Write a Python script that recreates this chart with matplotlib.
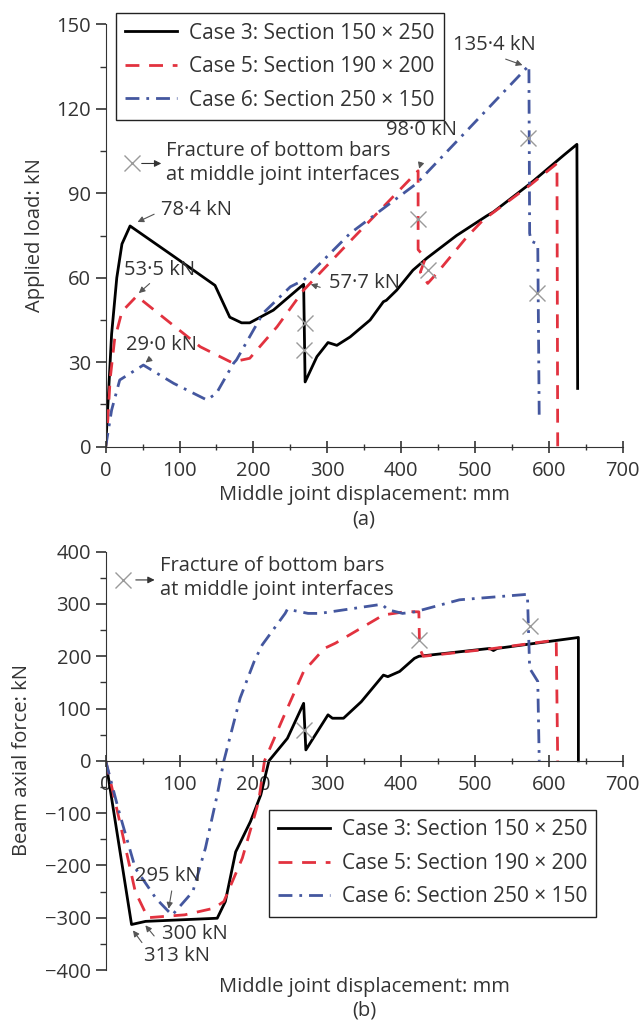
import matplotlib

matplotlib.use("Agg")
import matplotlib.pyplot as plt

plt.rcParams["font.family"] = ["Open Sans", "DejaVu Sans"]
plt.rcParams["font.size"] = 14.5
plt.rcParams["text.color"] = "#333333"
plt.rcParams["axes.edgecolor"] = "#333333"
plt.rcParams["xtick.color"] = "#333333"
plt.rcParams["ytick.color"] = "#333333"

# ---- data: (a) applied load ----
load_c3_x = [0, 3, 8, 15, 22, 33, 90, 148, 168, 184, 195, 227, 268, 270, 286, 301, 313, 331, 358,
             376, 380, 394, 416, 435, 475, 516, 525, 575, 620, 638, 639]
load_c3_y = [0, 15, 40, 60, 72, 78.4, 68, 57.3, 46, 44, 44, 48.5, 57.7, 23, 32, 37, 36, 39, 45,
             51.5, 52, 55.6, 62.7, 67, 75, 82, 83.4, 93.5, 103.5, 107.4, 20.7]

load_c5_x = [0, 3, 6, 12, 22, 42, 92, 128, 170, 195, 232, 268, 331, 423, 423, 433, 426, 436,
             448, 489, 511, 575, 611, 612]
load_c5_y = [0, 10, 24, 38, 48, 53.5, 43, 35.5, 30, 31.4, 42.6, 55.6, 73, 98.0, 70, 67, 62, 58,
             61.5, 74.5, 80.5, 93, 100.6, 0]

load_c6_x = [0, 8, 19, 51, 92, 137, 150, 173, 177, 213, 250, 268, 331, 421, 573, 574, 576, 585, 587]
load_c6_y = [0, 13, 23.7, 29.0, 22.5, 16.6, 19, 29.6, 30.8, 47.4, 56.8, 59.2, 75.8, 93.5, 135.4,
             75.8, 73, 72, 9.5]

load_frac_x = [270, 268, 423, 437, 572, 584]
load_frac_y = [43.8, 34.3, 81, 62.7, 109.5, 54.5]

# ---- data: (b) beam axial force ----
axial_c3_x = [0, 35, 54, 151, 162, 176, 196, 210, 221, 246, 268, 271, 301, 307, 322, 346, 376,
              382, 398, 418, 424, 520, 525, 530, 635, 640, 640]
axial_c3_y = [0, -313, -307, -301, -269, -174, -116, -65, 0, 43, 110, 21, 88, 81.5, 81.5, 113, 164,
              161, 171, 196, 200, 215, 211, 215, 235, 236, 0]

axial_c5_x = [0, 18, 40, 57, 107, 146, 160, 185, 207, 215, 240, 268, 296, 311, 376, 407, 424,
              425, 430, 520, 610, 612]
axial_c5_y = [0, -110, -250, -300, -294.5, -282, -269, -186, -78, 0, 81.5, 171, 215, 225, 279,
              285.5, 285, 215, 200, 214, 231, 0]

axial_c6_x = [0, 18, 40, 68, 85, 90, 118, 135, 151, 160, 182, 201, 212, 243, 246, 274, 290, 374,
              382, 402, 419, 424, 479, 571, 574, 585, 587]
axial_c6_y = [0, -97, -205, -263, -288, -295, -250, -167, -65, 0, 120, 190, 222, 282, 290, 282,
              282, 299.5, 289, 282, 285, 287, 308, 318.5, 177, 152, 0]

axial_frac_x = [268, 424, 574]
axial_frac_y = [59, 231, 257]

labels = ["Case 3: Section 150 × 250", "Case 5: Section 190 × 200", "Case 6: Section 250 × 150"]

RED = "#e2323f"
BLUE = "#44579f"
GREY = "#9a9a9a"
W, H = 643, 1021


def px_axes(x0, y0, x1, y1):
    return [x0 / W, 1 - y1 / H, (x1 - x0) / W, (y1 - y0) / H]


def draw_lines(ax, xs, ys):
    h1, = ax.plot(xs[0], ys[0], color="black", lw=2, label=labels[0])
    h2, = ax.plot(xs[1], ys[1], color=RED, lw=2, dashes=(5, 3.5), label=labels[1])
    h3, = ax.plot(xs[2], ys[2], color=BLUE, lw=2, dashes=(5, 2.5, 1, 2.5), label=labels[2])
    return [h1, h2, h3]


def style_axes(ax):
    for s in ["top", "right"]:
        ax.spines[s].set_visible(False)
    ax.tick_params(axis="y", which="major", direction="out", length=7, width=1.2)
    ax.tick_params(axis="y", which="minor", direction="out", length=4, width=1)
    ax.tick_params(axis="x", which="major", direction="inout", length=8, width=1.2, pad=6)
    ax.tick_params(axis="x", which="minor", direction="inout", length=5, width=1)
    ax.set_xlim(0, 700)
    ax.set_xticks(range(0, 701, 100))
    ax.set_xticks(range(50, 701, 100), minor=True)


def fracture_note(ax, mx, my, tx, ty, ax0, ax1):
    ax.plot([mx], [my], marker="x", ms=11, mew=1, color=GREY, ls="none", zorder=5)
    ax.annotate("", xy=(ax1, my), xytext=(ax0, my),
                arrowprops=dict(arrowstyle="-|>", color="#333333", lw=0.8, mutation_scale=10))
    ax.text(tx, ty, "Fracture of bottom bars\nat middle joint interfaces",
            ha="left", va="center", linespacing=1.3)


def note(ax, text, txy, tail, head):
    ax.text(txy[0], txy[1], text, ha="center", va="center", zorder=6)
    ax.annotate("", xy=head, xytext=tail,
                arrowprops=dict(arrowstyle="-|>", color="#555555", lw=0.8, mutation_scale=9))


def make_legend(handles, x, y):
    leg = fig.legend(handles=handles, loc="upper left", bbox_to_anchor=(x / W, 1 - y / H),
                     borderaxespad=0, frameon=True, fancybox=False, framealpha=1,
                     edgecolor="#222222", handlelength=2.5, handletextpad=0.55,
                     labelspacing=0.6, borderpad=0.45, fontsize=15)
    leg.get_frame().set_linewidth(1)
    return leg


fig = plt.figure(figsize=(6.43, 10.21), dpi=100)

# ---------- (a) ----------
ax1 = fig.add_axes(px_axes(105.7, 24.4, 622.7, 446.7))
style_axes(ax1)
ax1.set_ylim(0, 150)
ax1.set_yticks(range(0, 151, 30))
ax1.set_yticks(range(15, 150, 30), minor=True)
handles = draw_lines(ax1, [load_c3_x, load_c5_x, load_c6_x], [load_c3_y, load_c5_y, load_c6_y])
ax1.plot(load_frac_x, load_frac_y, marker="x", ms=11, mew=1, color=GREY, ls="none", zorder=5)
fracture_note(ax1, 35, 100.6, 81.7, 100.7, 45, 79)
note(ax1, "78·4 kN", (123.6, 84.0), (69, 83), (39.7, 79.4))
note(ax1, "53·5 kN", (73.5, 62.7), (62.3, 58.6), (42, 53.9))
note(ax1, "29·0 kN", (74.9, 36.1), (64, 32), (51, 29.3))
note(ax1, "57·7 kN", (350, 58.1), (294, 56.3), (274, 58))
note(ax1, "98·0 kN", (427, 112.4), (428, 101.8), (423.3, 97.8))
note(ax1, "135·4 kN", (525.8, 142.6), (538, 138), (567.8, 135.2))
make_legend(handles, 116, 13.3)

fig.text(35 / W, 1 - 235.5 / H, "Applied load: kN", rotation=90, ha="center", va="center")
fig.text(364 / W, 1 - 495 / H, "Middle joint displacement: mm", ha="center", va="center")
fig.text(364 / W, 1 - 519 / H, "(a)", ha="center", va="center")

# ---------- (b) ----------
ax2 = fig.add_axes(px_axes(105.7, 551.7, 622.7, 970))
style_axes(ax2)
ax2.set_ylim(-400, 400)
ax2.spines["bottom"].set_position(("data", 0))
ax2.set_yticks(range(-400, 401, 100))
ax2.set_yticks(range(-350, 400, 100), minor=True)
ax2.set_yticklabels([f"{v}".replace("-", "\u2212") for v in range(-400, 401, 100)])
handles = draw_lines(ax2, [axial_c3_x, axial_c5_x, axial_c6_x], [axial_c3_y, axial_c5_y, axial_c6_y])
ax2.plot(axial_frac_x, axial_frac_y, marker="x", ms=11, mew=1, color=GREY, ls="none", zorder=5)
fracture_note(ax2, 23.5, 346, 73.8, 350, 37, 70)
note(ax2, "295 kN", (84.3, -221), (90, -243.6), (84.6, -288))
note(ax2, "300 kN", (121, -332), (68, -339), (51.3, -310.5))
note(ax2, "313 kN", (95.9, -374), (51.3, -351.8), (34.7, -320))
make_legend(handles, 268.8, 810)

fig.text(21.7 / W, 1 - 760 / H, "Beam axial force: kN", rotation=90, ha="center", va="center")
fig.text(364 / W, 1 - 986.7 / H, "Middle joint displacement: mm", ha="center", va="center")
fig.text(364 / W, 1 - 1010 / H, "(b)", ha="center", va="center")

fig.savefig("out.png", dpi=100)
plt.close(fig)
